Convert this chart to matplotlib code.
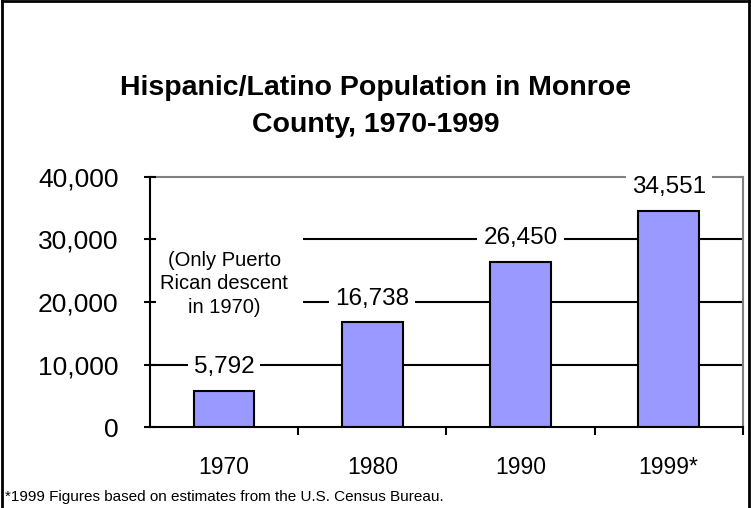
import matplotlib.pyplot as plt
from matplotlib.lines import Line2D

plt.rcParams['font.family'] = ['Liberation Sans', 'DejaVu Sans']

# Population counts by census year
years = ["1970", "1980", "1990", "1999*"]
population = [5792, 16738, 26450, 34551]
y_ticks = [0, 10000, 20000, 30000, 40000]

fig = plt.figure(figsize=(7.51, 5.08), dpi=100)
ax = fig.add_axes([0.1997, 0.1594, 0.7893, 0.4922])

x = range(len(years))
bars = ax.bar(x, population, width=0.41, color="#9999FF", edgecolor="black",
              linewidth=1.5, zorder=3)

ax.set_xlim(-0.5, len(years) - 0.5)
ax.set_ylim(0, 40000)
ax.set_yticks(y_ticks)
ax.set_yticklabels([f"{v:,}" for v in y_ticks], fontsize=19)

# category labels on major ticks, boundary marks on minor ticks
ax.set_xticks(list(x))
ax.set_xticklabels(years, fontsize=16.5)
ax.set_xticks([i + 0.5 for i in x], minor=True)
ax.tick_params(axis="x", which="major", length=0, pad=21)
ax.tick_params(axis="x", which="minor", length=6, width=1.5, direction="out")
ax.tick_params(axis="y", length=9, width=1.5, direction="inout", pad=18)
ax.yaxis.set_zorder(5)

# horizontal gridlines
for v in y_ticks[1:-1]:
    ax.axhline(v, color="black", linewidth=1.5, zorder=1)

# left/bottom axes stay above the note box; top/right border sits under labels
for side in ["left", "bottom"]:
    ax.spines[side].set_color("black")
    ax.spines[side].set_linewidth(1.5)
    ax.spines[side].set_zorder(5)
for side in ["top", "right"]:
    ax.spines[side].set_color("#808080")
    ax.spines[side].set_linewidth(1.5)

# value labels with white boxes over the gridlines
for xi, v in zip(x, population):
    ax.annotate(f"{v:,}", (xi, v), xytext=(0, 17), textcoords="offset points",
                ha="center", va="center", fontsize=17.5, zorder=4,
                bbox=dict(boxstyle="square,pad=0.25", fc="white", ec="none"))

ax.text(0, 22900, "(Only Puerto\nRican descent\nin 1970)", ha="center", va="center",
        fontsize=14.5, linespacing=1.3, zorder=4,
        bbox=dict(boxstyle="square,pad=0.72", fc="white", ec="none"))

fig.text(0.5, 0.79, "Hispanic/Latino Population in Monroe\nCounty, 1970-1999",
         ha="center", va="center", fontsize=20.5, fontweight="bold", linespacing=1.55)

fig.text(0.006, 0.022, "*1999 Figures based on estimates from the U.S. Census Bureau.",
         ha="left", va="center", fontsize=11)

# chart frame
for xs, ys in [([0.002, 0.002], [0, 0.999]), ([0.002, 0.998], [0.999, 0.999]),
               ([0.998, 0.998], [0, 0.999])]:
    fig.add_artist(Line2D(xs, ys, color="black", linewidth=2, transform=fig.transFigure))

fig.savefig("out.png", dpi=100)
